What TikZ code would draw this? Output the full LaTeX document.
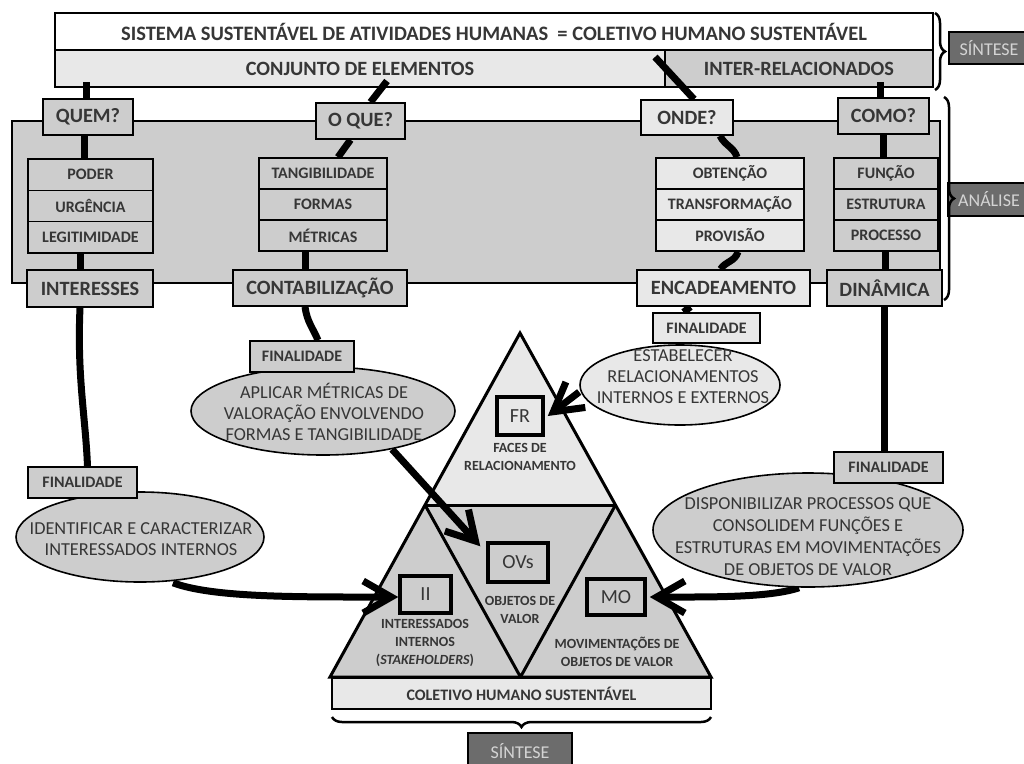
\documentclass[tikz,border=0pt]{standalone}
\usepackage{fontspec}
\setmainfont{Carlito}
\usetikzlibrary{shapes.geometric,arrows.meta,decorations.pathreplacing,calc}
\definecolor{cMid}{HTML}{CDCDCD}
\definecolor{cLight}{HTML}{E8E8E8}
\definecolor{cDark}{HTML}{6C6C6C}
\definecolor{cTxt}{HTML}{363636}
\definecolor{cSyn}{HTML}{D4D4D4}
\newcommand\fsz[2]{\fontsize{#1}{#2}\selectfont}
\pgfdeclarelayer{bg}
\pgfdeclarelayer{mid}
\pgfsetlayers{bg,mid,main}
\begin{document}
\begin{tikzpicture}[x=1pt,y=-1pt,
  box/.style={draw=black, line width=1.6pt, inner sep=0pt, text=cTxt, align=center},
  gbox/.style={box, fill=cMid},
  lbox/.style={box, fill=cLight},
  qf/.style={font=\bfseries\fsz{20.3}{24}},
  rf/.style={font=\bfseries\fsz{16}{18}},
  ell/.style={ellipse, draw=black, line width=1.6pt, inner sep=0pt},
  etext/.style={text=cTxt, align=center, font=\fsz{18.3}{21}, inner sep=0pt},
  tlab/.style={text=cTxt, align=center, font=\bfseries\fsz{14}{18}, inner sep=0pt},
  tbox/.style={draw=black, line width=3.5pt, inner sep=0pt, text=cTxt, font=\fsz{20}{24}},
  tri/.style={draw=black, line width=3pt, line join=miter},
  dark/.style={draw=black, line width=1.6pt, fill=cDark, text=cSyn, inner sep=0pt, font=\fsz{18}{20}},
  brc/.style={draw=black, line width=2.5pt, decorate, decoration={brace, amplitude=10pt}},
  conn/.style={draw=black, line width=7pt},
  arr/.style={draw=black, line width=7pt, -{Straight Barb[length=28pt,width=32pt]}}]
\useasboundingbox (0,0) rectangle (1024,763);

\begin{pgfonlayer}{bg}
  \node[box, fill=white, minimum width=878pt, minimum height=37pt, font=\bfseries\fsz{20.5}{22}] (t1) at (494,31.5) {SISTEMA SUSTENTÁVEL DE ATIVIDADES HUMANAS~ = COLETIVO HUMANO SUSTENTÁVEL};
  \node[lbox, qf, minimum width=610pt, minimum height=37pt] (t2) at (360,68.5) {CONJUNTO DE ELEMENTOS};
  \node[gbox, qf, minimum width=268pt, minimum height=37pt] (t3) at (799,68.5) {INTER-RELACIONADOS};
  \node[draw=black, line width=1.6pt, fill=cMid, minimum width=928pt, minimum height=162pt, inner sep=0pt] (an) at (476,202) {};
  % triangles
  \coordinate (ta) at (520,333);
  \coordinate (tl) at (330,677);
  \coordinate (tr) at (711,677);
  \coordinate (ml) at (425,505);
  \coordinate (mr) at (615.5,505);
  \coordinate (mb) at (520.5,677);
  \fill[cLight] (ta) -- (mr) -- (ml) -- cycle;
  \fill[cMid] (ml) -- (mr) -- (tr) -- (tl) -- cycle;
  \draw[tri] (ml) -- (mr);
  \draw[tri] (ml) -- (mb) -- (mr);
  \draw[tri] (ta) -- (tr) -- (tl) -- cycle;
\end{pgfonlayer}

% question boxes
\node[gbox, qf, minimum width=90pt, minimum height=36pt] (q1) at (88,117) {QUEM?};
\node[gbox, qf, minimum width=89pt, minimum height=36pt] (q2) at (360.5,121) {O QUE?};
\node[lbox, qf, minimum width=92pt, minimum height=35pt] (q3) at (687,117.5) {ONDE?};
\node[gbox, qf, minimum width=91pt, minimum height=36pt] (q4) at (883.5,116) {COMO?};

% stacks
\node[gbox, rf, minimum width=125pt, minimum height=31.3pt] (s1a) at (90.5,174.7) {PODER};
\node[gbox, rf, minimum width=125pt, minimum height=31.3pt] (s1b) at (90.5,206) {URGÊNCIA};
\node[gbox, rf, minimum width=125pt, minimum height=31.3pt] (s1c) at (90.5,237.3) {LEGITIMIDADE};
\node[gbox, rf, minimum width=128pt, minimum height=31pt] (s2a) at (323,173.5) {TANGIBILIDADE};
\node[gbox, rf, minimum width=128pt, minimum height=31pt] (s2b) at (323,204.5) {FORMAS};
\node[gbox, rf, minimum width=128pt, minimum height=31pt] (s2c) at (323,235.5) {MÉTRICAS};
\node[lbox, rf, minimum width=148pt, minimum height=31pt] (s3a) at (730,173.5) {OBTENÇÃO};
\node[lbox, rf, minimum width=148pt, minimum height=31pt] (s3b) at (730,204.5) {TRANSFORMAÇÃO};
\node[lbox, rf, minimum width=148pt, minimum height=31pt] (s3c) at (730,235.5) {PROVISÃO};
\node[gbox, rf, minimum width=104pt, minimum height=31pt] (s4a) at (886,173.5) {FUNÇÃO};
\node[gbox, rf, minimum width=104pt, minimum height=31pt] (s4b) at (886,204.5) {ESTRUTURA};
\node[gbox, rf, minimum width=104pt, minimum height=31pt] (s4c) at (886,235.5) {PROCESSO};

% bottom row of analysis
\node[gbox, qf, minimum width=126pt, minimum height=37pt] (int) at (90,288.5) {INTERESSES};
\node[gbox, qf, minimum width=174pt, minimum height=36pt] (cont) at (320,288) {CONTABILIZAÇÃO};
\node[lbox, qf, minimum width=173pt, minimum height=36pt] (enc) at (723.5,288) {ENCADEAMENTO};
\node[gbox, qf, minimum width=115pt, minimum height=36pt] (din) at (884.5,288) {DINÂMICA};

% ellipses
\node[ell, fill=cMid, minimum width=248pt, minimum height=90pt] (e1) at (140,537) {};
\node[etext] (e1t) at (141,539) {IDENTIFICAR E CARACTERIZAR\\INTERESSADOS INTERNOS};
\node[ell, fill=cMid, minimum width=264pt, minimum height=88pt] (e2) at (323,411) {};
\node[etext] (e2t) at (324,412) {APLICAR MÉTRICAS DE\\VALORAÇÃO ENVOLVENDO\\FORMAS E TANGIBILIDADE};
\node[ell, fill=cLight, minimum width=200pt, minimum height=80pt] (e3) at (680,385) {};
\node[etext] (e3t) at (683,377) {ESTABELECER\\RELACIONAMENTOS\\INTERNOS E EXTERNOS};
\node[ell, fill=cMid, minimum width=310pt, minimum height=114pt] (e4) at (808,530) {};
\node[etext, font=\fsz{18.3}{22}] (e4t) at (808,537) {DISPONIBILIZAR PROCESSOS QUE\\CONSOLIDEM FUNÇÕES E\\ESTRUTURAS EM MOVIMENTAÇÕES\\DE OBJETOS DE VALOR};

% finalidade boxes
\node[gbox, rf, minimum width=109pt, minimum height=31pt] (f1) at (82.5,482.5) {FINALIDADE};
\node[gbox, rf, minimum width=104pt, minimum height=31pt] (f2) at (302,356.5) {FINALIDADE};
\node[lbox, rf, minimum width=107pt, minimum height=30pt] (f3) at (706.5,328) {FINALIDADE};
\node[gbox, rf, minimum width=109pt, minimum height=31pt] (f4) at (888.5,467.5) {FINALIDADE};

% triangle contents
\node[tbox, fill=cLight, minimum width=46pt, minimum height=38pt] (fr) at (520,416) {FR};
\node[tlab] (frl) at (520,457) {FACES DE\\RELACIONAMENTO};
\node[tbox, fill=cMid, minimum width=60pt, minimum height=39pt] (ovs) at (518,562.5) {OVs};
\node[tlab] (ovl) at (520,610) {OBJETOS DE\\VALOR};
\node[tbox, fill=cMid, minimum width=51pt, minimum height=37pt] (ii) at (425.5,594.5) {II};
\node[tlab] (iil) at (425,643) {INTERESSADOS\\INTERNOS\\(\textit{STAKEHOLDERS})};
\node[tbox, fill=cMid, minimum width=58pt, minimum height=36pt] (mo) at (616,597) {MO};
\node[tlab] (mol) at (617,652) {MOVIMENTAÇÕES DE\\OBJETOS DE VALOR};
\node[lbox, font=\bfseries\fsz{16}{19}, minimum width=379pt, minimum height=31pt] (col) at (521.5,693.5) {COLETIVO HUMANO SUSTENTÁVEL};

% synthesis / analysis tags
\node[dark, minimum width=80pt, minimum height=32pt] (syn1) at (989,48) {SÍNTESE};
\node[dark, minimum width=82pt, minimum height=33pt] (ana) at (989,199.5) {ANÁLISE};
\node[dark, minimum width=104pt, minimum height=36pt] (syn2) at (520,751) {SÍNTESE};
\draw[brc] (935,13) -- (935,90);
\draw[brc] (944,97) -- (944,300);
\draw[brc] (711,717) -- (332,717);

% connectors
\coordinate (k1) at (86,82);
\coordinate (k2) at (387,81);
\coordinate (k3) at (655,57);
\coordinate (k4) at (880.5,82);
\begin{pgfonlayer}{mid}
  \draw[conn] ([xshift=-2pt]q1.north) -- (k1);
  \draw[conn] ([xshift=-4pt]q1.south) -- ([xshift=-4pt]q1.south |- s1a.north);
  \draw[conn] ([xshift=-10pt]s1c.south) -- ([xshift=-10pt]s1c.south |- int.north);
  \draw[conn] ([xshift=-10pt]int.south) .. controls +(-3,70) and +(-2,-50) .. ([xshift=5pt]f1.north);
  \draw[conn] ([xshift=10pt]q2.north) -- (k2);
  \draw[conn] ([xshift=-10pt]q2.south) -- ([xshift=15pt]s2a.north);
  \draw[conn] ([xshift=-18pt]s2c.south) -- ([xshift=-15pt]cont.north);
  \draw[conn] ([xshift=-15pt]cont.south) .. controls +(2,15) and +(-5,-12) .. ([xshift=16pt]f2.north);
  \draw[conn] ([xshift=7pt]q3.north) -- (k3);
  \draw[conn] ([xshift=33pt]q3.south) .. controls +(5,10) and +(-3,-10) .. ([xshift=7pt]s3a.north);
  \draw[conn] ([xshift=8pt]s3c.south) .. controls +(-3,10) and +(5,-8) .. ([xshift=-3pt]enc.north);
  \draw[conn] ([xshift=-33pt]enc.south) -- ([xshift=-23pt]f3.north);
  \draw[conn] ([xshift=-3pt]q4.north) -- (k4);
  \draw[conn] (q4.south) -- (q4.south |- s4a.north);
  \draw[conn] ([xshift=-1pt]s4c.south) -- ([xshift=-1pt]s4c.south |- din.north);
  \draw[conn] (din.south) -- (din.south |- f4.north);
  \draw[arr] ([xshift=33pt]e1.south) .. controls +(40,15) and +(-100,0) .. ([yshift=-2.5pt]ii.west);
  \draw[arr] ([xshift=-9pt]e4.south) .. controls +(-30,10) and +(60,0) .. ([xshift=3pt]mo.east);
  \draw[arr] (e2.-29) -- ([xshift=-6pt,yshift=-5pt]ovs.north west);
  \draw[arr] ([yshift=-7pt]e3.west) -- ([xshift=3pt]fr.east);
\end{pgfonlayer}
\end{tikzpicture}
\end{document}
